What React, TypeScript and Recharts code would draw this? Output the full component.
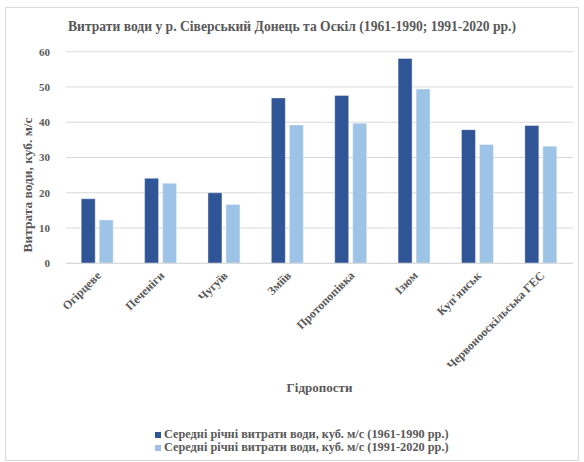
import React from 'react';
import { BarChart, Bar, XAxis, YAxis, CartesianGrid, Legend } from 'recharts';

const categories = ['Огірцеве', 'Печеніги', 'Чугуїв', 'Зміїв', 'Протопопівка', 'Ізюм', "Куп'янськ", 'Червонооскільська ГЕС'];
const series1961 = [18.3, 24.1, 20.0, 46.9, 47.6, 58.1, 37.9, 39.1];
const series1991 = [12.3, 22.7, 16.7, 39.2, 39.7, 49.4, 33.7, 33.2];
const yTicks = [0, 10, 20, 30, 40, 50, 60];

const name1 = 'Середні річні витрати води, куб. м/с (1961-1990 рр.)';
const name2 = 'Середні річні витрати води, куб. м/с (1991-2020 рр.)';
const title = 'Витрати води у р. Сіверський Донець та Оскіл (1961-1990; 1991-2020 рр.)';

const data = categories.map((c, i) => ({ name: c, a: series1961[i], b: series1991[i] }));

const FONT = '"Liberation Serif", "Times New Roman", serif';
const GREY = '#595959';
const DARK = '#2F5597';
const LIGHT = '#9DC3E6';

const XTick = (props: any) => {
  const { x, y, payload } = props;
  const ax = x + 4;
  const ay = y + 5;
  return (
    <text x={ax} y={ay} transform={`rotate(-45 ${ax} ${ay})`} textAnchor="end" fill={GREY}
      fontFamily={FONT} fontWeight="bold" fontSize={12}>
      {payload.value}
    </text>
  );
};

const legendContent = () => (
  <div style={{ fontFamily: FONT, fontWeight: 'bold', fontSize: 12.3, color: GREY, lineHeight: '13px' }}>
    {[{ c: DARK, n: name1 }, { c: LIGHT, n: name2 }].map((it) => (
      <div key={it.n} style={{ display: 'flex', alignItems: 'center', height: 13, whiteSpace: 'nowrap' }}>
        <span style={{ display: 'inline-block', width: 6, height: 6, background: it.c, marginRight: 3 }} />
        <span>{it.n}</span>
      </div>
    ))}
  </div>
);

export default function App() {
  return (
    <div style={{ position: 'absolute', left: 0, top: 0, width: 584, height: 462, background: '#fff' }}>
      <div style={{ position: 'absolute', left: 5, top: 7, width: 572, height: 452, border: '1px solid #d9d9d9' }} />
      <div style={{ position: 'absolute', left: 0, top: 19, width: 584, textAlign: 'center', fontFamily: FONT,
        fontWeight: 'bold', fontSize: 13.6, color: GREY }}>
        {title}
      </div>
      <div style={{ position: 'absolute', left: 0, top: 0 }}>
        <BarChart width={584} height={462} data={data}
          margin={{ top: 51.7, right: 11, bottom: 0, left: 0 }}
          barGap={4} barCategoryGap="24%">
          <CartesianGrid vertical={false} stroke="#d9d9d9" strokeWidth={1} />
          <XAxis dataKey="name" height={198.7} interval={0} tickLine={false}
            axisLine={{ stroke: '#d9d9d9' }} tick={<XTick />}
            label={(p: any) => {
              const vb = p.viewBox || {};
              return (
                <text x={vb.x + vb.width / 2} y={vb.y + 129} textAnchor="middle" fill={GREY}
                  fontFamily={FONT} fontWeight="bold" fontSize={13}>Гідропости</text>
              );
            }} />
          <YAxis width={66} domain={[0, 60]} ticks={yTicks} tickLine={false} axisLine={false}
            tickSize={0} tickMargin={16} interval={0}
            tick={{ fill: GREY, fontFamily: FONT, fontWeight: 'bold', fontSize: 11 }}
            label={() => (
              <text x={32} y={185} transform="rotate(-90 32 185)" textAnchor="middle" fill={GREY}
                fontFamily={FONT} fontWeight="bold" fontSize={13.4}>Витрата води, куб. м/с</text>
            )} />
          <Legend layout="vertical" align="center" verticalAlign="middle" content={legendContent}
            wrapperStyle={{ position: 'absolute', top: 428, left: 155, width: 330 }} />
          <Bar dataKey="a" name={name1} fill={DARK} stroke="#ffffff" strokeOpacity={0.4} isAnimationActive={false} />
          <Bar dataKey="b" name={name2} fill={LIGHT} stroke="#ffffff" strokeOpacity={0.4} isAnimationActive={false} />
        </BarChart>
      </div>
    </div>
  );
}
